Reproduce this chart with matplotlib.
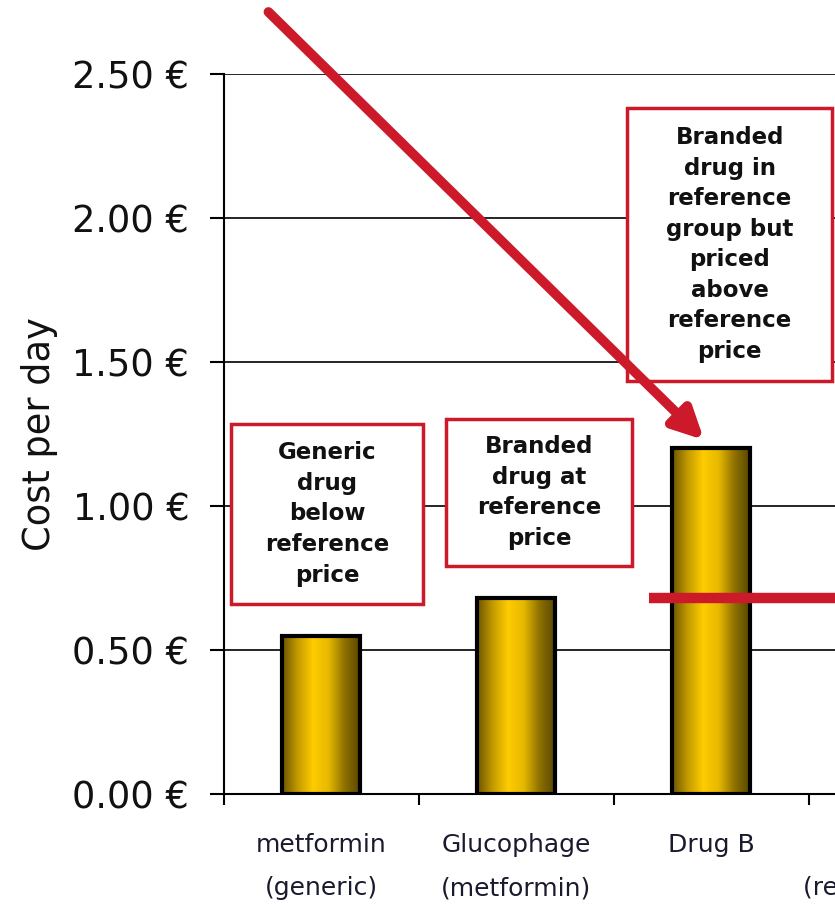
import numpy as np
import matplotlib.pyplot as plt
from matplotlib.patches import Rectangle
from matplotlib.colors import LinearSegmentedColormap
from matplotlib.ticker import FuncFormatter, FixedLocator

# data
names = ['metformin', 'Glucophage', 'Drug B', '']
subnames = ['(generic)', '(metformin)', '', '(reference drug)']
cost = [0.55, 0.68, 1.20]
reference_price = 0.68
yticks = [0.0, 0.5, 1.0, 1.5, 2.0, 2.5]

RED = '#cc1a2b'
FONT = 'DejaVu Sans'

fig = plt.figure(figsize=(8.35, 9.08), dpi=100)
ax = fig.add_axes([224 / 835, 114 / 908, (835 - 224) / 835, 720 / 908])

x = np.arange(len(cost))
bars = ax.bar(x, cost, width=0.4, facecolor='none', edgecolor='black',
              linewidth=3, zorder=3)

# golden gradient inside each bar
gold = LinearSegmentedColormap.from_list(
    'gold', ['#6a5400', '#c29a00', '#ffcc00', '#e6b800', '#8f7200', '#5a4700'])
grad = np.linspace(0, 1, 256).reshape(1, -1)
for b in bars:
    x0, y0 = b.get_x(), b.get_y()
    im = ax.imshow(grad, cmap=gold, aspect='auto', zorder=2,
                   extent=[x0, x0 + b.get_width(), y0, y0 + b.get_height()])
    im.set_clip_path(b)

ax.set_xlim(-0.5, (835 - 321) / 195)
ax.set_ylim(0, 2.5)

# reference price line
ax.plot([1.68, 3.5], [reference_price, reference_price], color=RED,
        linewidth=7.5, solid_capstyle='butt', zorder=4, clip_on=False)

ax.yaxis.set_major_locator(FixedLocator(yticks))
ax.yaxis.set_major_formatter(FuncFormatter(lambda v, p: '%.2f €' % v))
ax.grid(axis='y', color='black', linewidth=1.2, zorder=0)
ax.set_axisbelow(True)
ax.tick_params(axis='y', length=10, width=1.5, pad=15, labelsize=26.5,
               labelcolor='#111111')
ax.set_xticks(np.arange(-0.5, 3.0, 1.0))
ax.set_xticklabels([])
ax.tick_params(axis='x', length=8, width=1.5)
for lab in ax.get_yticklabels():
    lab.set_fontfamily(FONT)

for s in ['top', 'right']:
    ax.spines[s].set_visible(False)
for s in ['left', 'bottom']:
    ax.spines[s].set_linewidth(1.5)

ax.set_ylabel('Cost per day', fontsize=26.5, family=FONT, labelpad=10,
              color='#111111')

# category labels, two lines each
for i, (n, sn) in enumerate(zip(names, subnames)):
    ax.annotate(n, xy=(i, 0), xycoords=('data', 'axes fraction'),
                xytext=(0, -37), textcoords='offset points', ha='center',
                va='center', fontsize=18, family=FONT, color='#1a1a2e',
                annotation_clip=False)
    ax.annotate(sn, xy=(i, 0), xycoords=('data', 'axes fraction'),
                xytext=(0, -68), textcoords='offset points', ha='center',
                va='center', fontsize=18, family=FONT, color='#1a1a2e',
                annotation_clip=False)

# callout boxes (pixel positions converted to data space)
def px(xp, yp):
    return (xp - 321) / 195, (794 - yp) / 288

boxes = [
    ((231, 424, 423, 604), 'Generic\ndrug\nbelow\nreference\nprice'),
    ((446, 419, 632, 566), 'Branded\ndrug at\nreference\nprice'),
    ((627, 108, 832, 381), 'Branded\ndrug in\nreference\ngroup but\npriced\n'
                           'above\nreference\nprice'),
]
for (l, t, r, b), txt in boxes:
    x0, y0 = px(l, b)
    x1, y1 = px(r, t)
    ax.add_patch(Rectangle((x0, y0), x1 - x0, y1 - y0, facecolor='white',
                           edgecolor=RED, linewidth=2.5, zorder=5))
    ax.text((x0 + x1) / 2, (y0 + y1) / 2, txt, ha='center', va='center',
            fontsize=16.5, fontweight='bold', family=FONT,
            linespacing=1.42, zorder=6, color='#111111')

# big arrow pointing to Drug B
tail = px(268, 12)
head = px(704, 440)
ax.annotate('', xy=head, xytext=tail, annotation_clip=False,
            arrowprops=dict(arrowstyle='-|>,head_length=1.8,head_width=0.9',
                            color=RED, linewidth=7, shrinkA=0, shrinkB=0),
            zorder=7)

fig.savefig('out.png', dpi=100)
